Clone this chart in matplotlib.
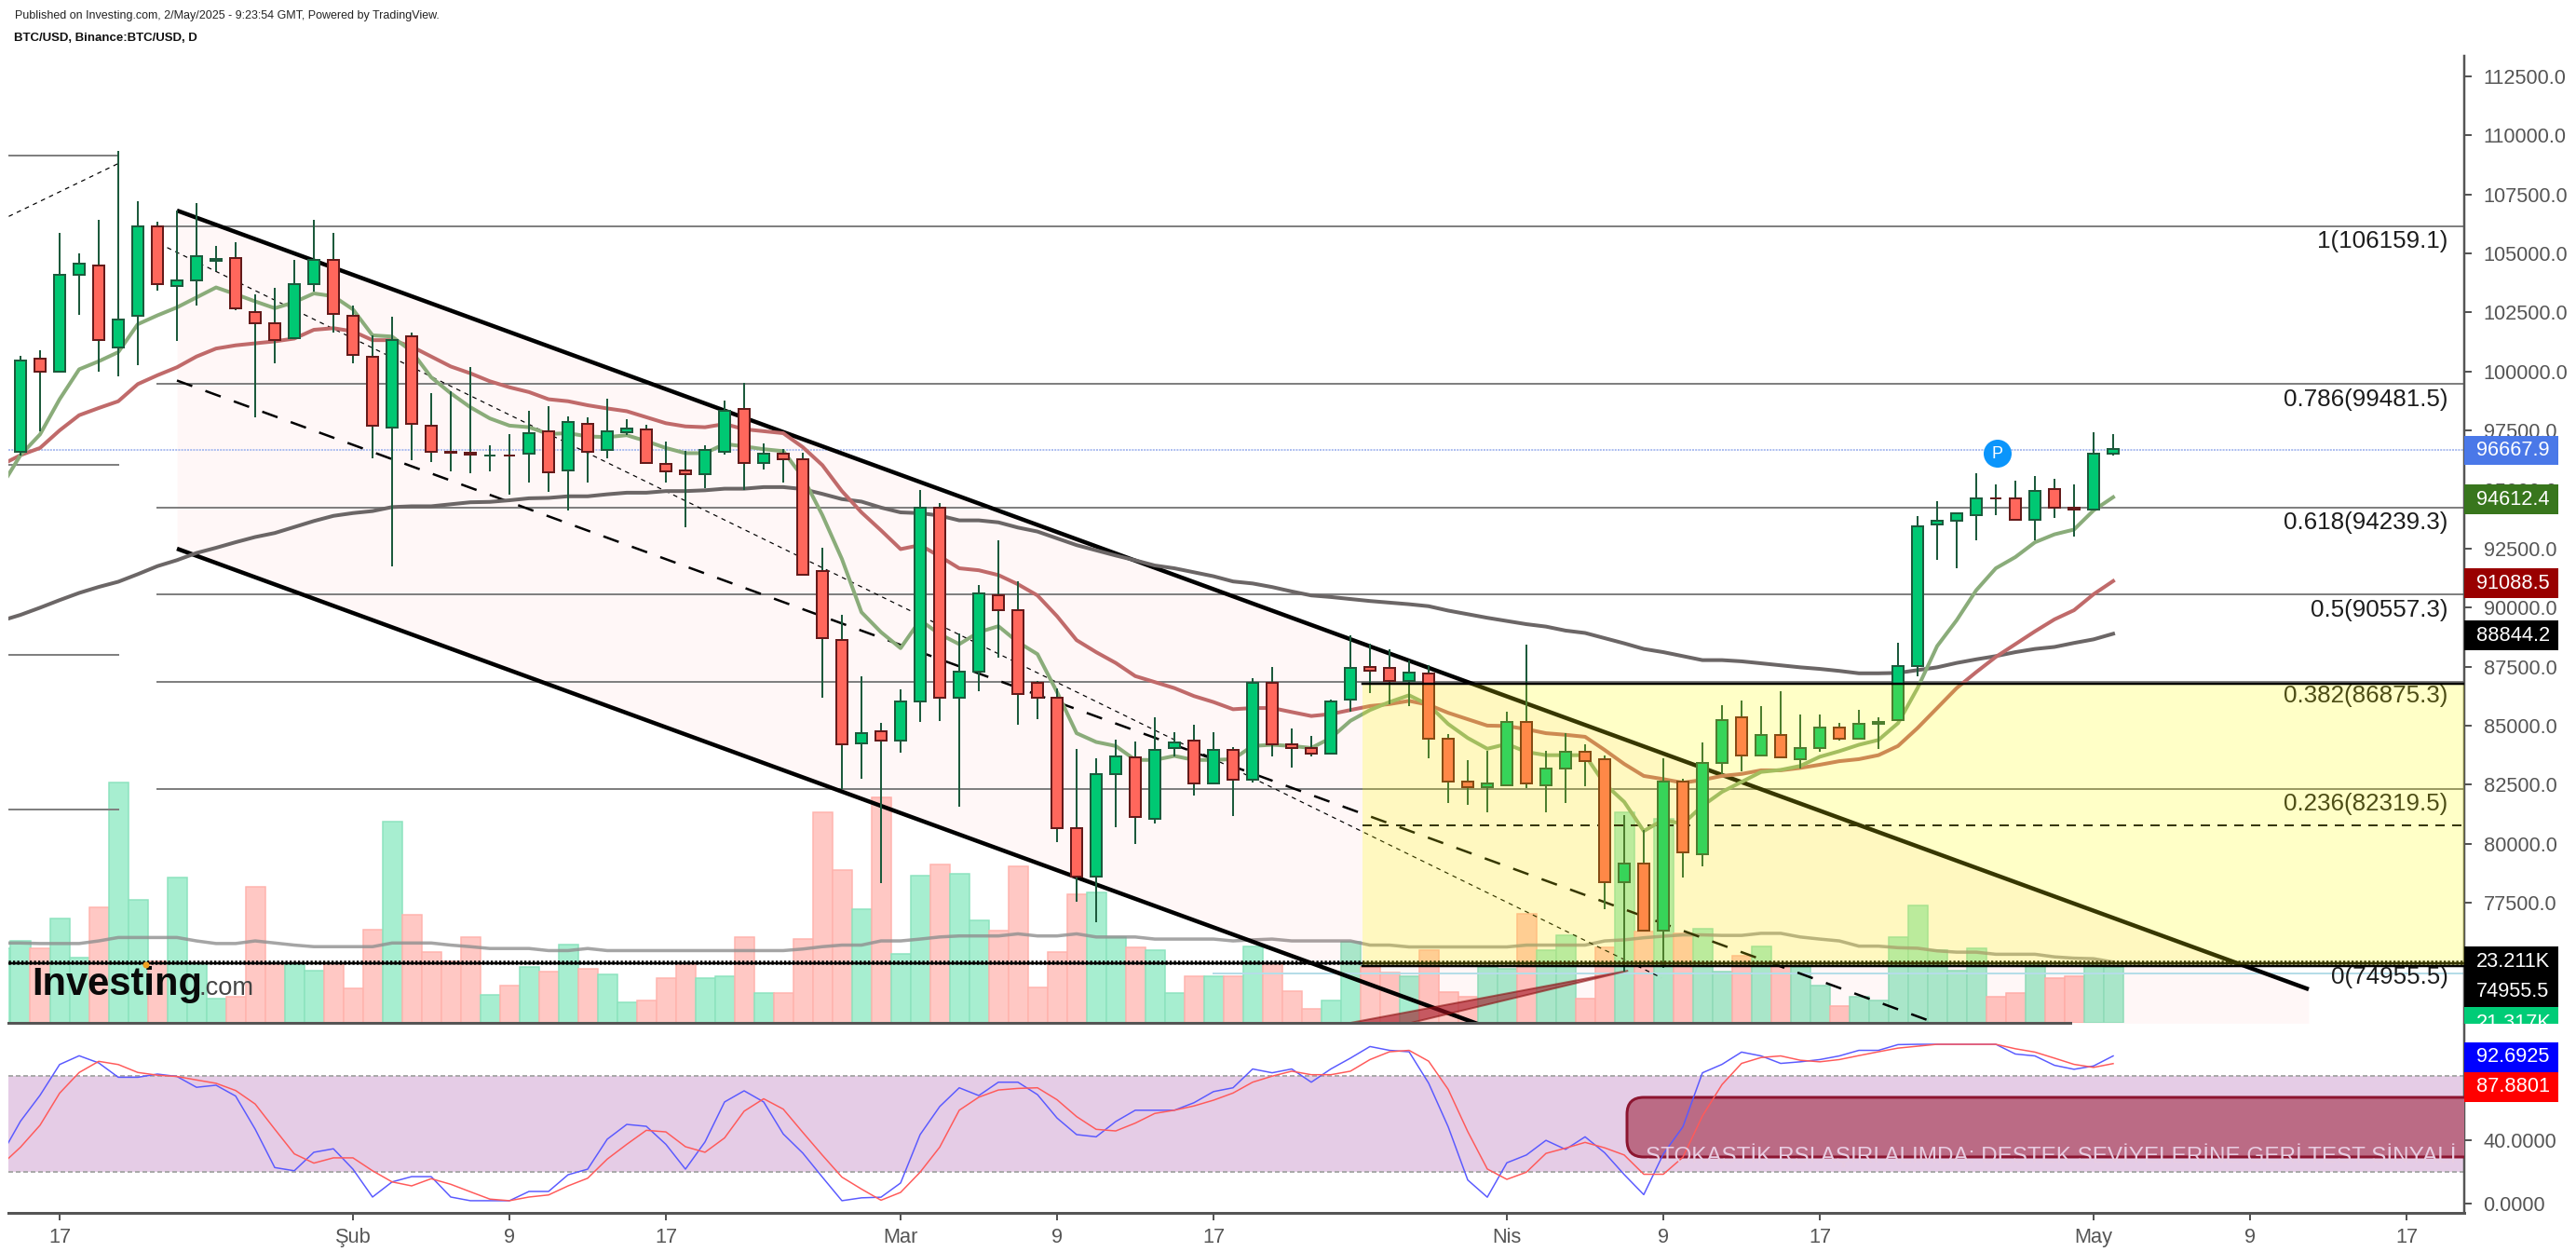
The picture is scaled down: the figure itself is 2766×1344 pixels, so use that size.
import matplotlib
matplotlib.use("Agg")
import matplotlib.pyplot as plt
from matplotlib.patches import Rectangle, Circle, FancyBboxPatch

plt.rcParams['font.family'] = ['Liberation Sans', 'DejaVu Sans']

W, H = 2766, 1344
PX = 0.72  # one pixel in points at dpi 100

# daily candles, first one is 15 Jan 2025 (day -2, day 0 is 17 Jan)
opens = [96595, 100552, 100011, 104103, 104492, 101025, 102344, 106149, 103629, 103849, 104700, 104813,
         102530, 102057, 101414, 103697, 104729, 102361, 100636, 97626, 101499, 97711, 96612, 96544,
         96426, 96460, 96510, 97474, 95800, 97779, 96679, 97440, 97559, 96070, 95817, 95648,
         96595, 98421, 96121, 96527, 96290, 91556, 88630, 84262, 84770, 84364, 86021, 94239,
         86173, 87289, 90536, 89893, 86833, 86190, 80678, 78597, 82944, 83671, 81066, 84043,
         84381, 82554, 83975, 82707, 86816, 84212, 84060, 83806, 86106, 87475, 87458, 86883,
         87222, 84448, 82639, 82385, 82487, 85158, 82487, 83180, 83907, 83586, 78361, 79156,
         76331, 82639, 79545, 83434, 85345, 83755, 84618, 83569, 84060, 84922, 84465, 85074,
         85243, 87526, 93529, 93681, 93918, 94645, 94628, 93732, 95034, 94223, 94155, 96522]
highs = [100653, 100890, 105878, 105000, 106436, 109345, 107214, 106335, 106825, 107130, 105320, 105473,
         103257, 103562, 104745, 106420, 105862, 102784, 101533, 102311, 101668, 99080, 99165, 100180,
         96882, 97339, 98354, 98523, 98117, 98049, 98861, 97981, 97728, 97035, 96629, 96882,
         98776, 99503, 96967, 96713, 96561, 92536, 89696, 87103, 85108, 86528, 94983, 94425,
         88913, 90959, 92853, 91111, 86900, 86596, 84026, 83620, 84398, 84330, 85361, 84719,
         85040, 84719, 84094, 87019, 87492, 84871, 84567, 86122, 88828, 88490, 88253, 87780,
         87560, 84635, 83535, 83941, 85581, 88422, 83924, 84702, 84229, 83755, 81236, 80593,
         83620, 82741, 84313, 85886, 86055, 85835, 86461, 85497, 85497, 85108, 85666, 85378,
         88507, 93867, 94510, 94003, 95694, 95220, 95372, 95592, 95440, 95220, 97435, 97351]
lows = [96460, 97474, 99977, 102412, 99977, 99808, 100281, 103427, 101313, 102801, 104238, 102581,
        98066, 100366, 101414, 103393, 101634, 100366, 96341, 91758, 96256, 96173, 95783, 95698,
        95783, 94769, 95310, 94904, 94126, 95310, 96341, 97305, 96121, 95310, 93416, 95073,
        96494, 94971, 95868, 95310, 91387, 86179, 82322, 82758, 78344, 83857, 85142, 85209,
        81591, 86478, 87881, 85040, 85294, 80069, 77549, 76669, 80711, 80001, 80881, 83687,
        82064, 82554, 81185, 82589, 83721, 83248, 83721, 83806, 85581, 86393, 85919, 85835,
        83637, 81726, 81658, 81354, 82487, 82368, 81354, 81726, 82453, 77245, 74590, 76331,
        74759, 78564, 79037, 82960, 83079, 83755, 83637, 83180, 83891, 84364, 84465, 84026,
        85243, 87103, 92007, 91669, 92853, 93901, 93664, 92853, 93817, 93022, 94155, 96438]
closes = [100484, 100011, 104103, 104576, 101330, 102209, 106149, 103697, 103866, 104898, 104770, 102665,
          102040, 101330, 103714, 104729, 102429, 100704, 97694, 101346, 97779, 96595, 96578, 96494,
          96460, 96426, 97390, 95733, 97863, 96595, 97474, 97576, 96121, 95783, 95648, 96679,
          98336, 96121, 96527, 96273, 91387, 88715, 84199, 84702, 84364, 86038, 94239, 86173,
          87306, 90621, 89893, 86342, 86173, 80678, 78597, 82960, 83687, 81134, 83975, 84313,
          82554, 83975, 82707, 86816, 84212, 84043, 83806, 86038, 87458, 87340, 86883, 87238,
          84448, 82622, 82385, 82554, 85158, 82554, 83197, 83907, 83501, 78361, 79156, 76331,
          82639, 79629, 83434, 85243, 83755, 84618, 83671, 84060, 84922, 84465, 85091, 85176,
          87526, 93445, 93698, 94003, 94628, 94611, 93732, 94950, 94223, 94138, 96522, 96708]

# moving averages, first value is day -3 (just off the left edge)
ema_fast = [95107, 96460, 97339, 98827, 100095, 100434, 100822, 102006, 102378, 102716, 103139, 103562, 103275,
            102970, 102683, 102936, 103308, 103190, 102632, 101533, 101482, 100856, 99757, 99080, 98489,
            98015, 97711, 97643, 97356, 97390, 97254, 97221, 97305, 97051, 96764, 96544, 96544,
            96933, 96831, 96713, 96629, 95530, 93923, 92063, 89809, 88963, 88287, 89471, 88879,
            88456, 88963, 89217, 88541, 88033, 86427, 84685, 84313, 84144, 83553, 83553, 83722,
            83553, 83553, 83586, 84144, 84195, 84144, 84060, 84482, 85209, 85666, 86004, 86292,
            85886, 85074, 84482, 84026, 84229, 83891, 83755, 83755, 83755, 82538, 81777, 80542,
            81016, 80847, 81608, 82200, 82622, 83045, 83130, 83299, 83688, 83924, 84195, 84398,
            85108, 86596, 88372, 89471, 90739, 91669, 92143, 92768, 93106, 93309, 94121, 94679]
ema_mid = [96037, 96460, 96764, 97508, 98151, 98455, 98742, 99470, 99842, 100180, 100636, 100974, 101110,
           101195, 101279, 101397, 101769, 101837, 101702, 101330, 101330, 101059, 100636, 100214, 99926,
           99588, 99334, 99131, 98827, 98742, 98573, 98438, 98320, 98066, 97812, 97677, 97643,
           97779, 97559, 97474, 97390, 96798, 96037, 94938, 94037, 93275, 92481, 92650, 92176,
           91669, 91585, 91382, 90993, 90519, 89640, 88625, 88118, 87661, 87103, 86850, 86596,
           86258, 86004, 85700, 85751, 85751, 85581, 85413, 85497, 85666, 85835, 85919, 86055,
           85886, 85548, 85277, 85007, 84990, 84855, 84685, 84618, 84533, 83975, 83383, 82876,
           82741, 82588, 82707, 82876, 82960, 83113, 83113, 83214, 83349, 83501, 83586, 83755,
           84144, 84905, 85750, 86596, 87273, 87915, 88456, 88997, 89505, 89893, 90570, 91128]
ema_slow = [89443, 89696, 90000, 90321, 90625, 90879, 91099, 91420, 91759, 92013, 92317, 92537, 92773,
            92993, 93162, 93416, 93670, 93889, 94007, 94092, 94261, 94295, 94295, 94380, 94464,
            94481, 94549, 94633, 94650, 94718, 94718, 94802, 94870, 94870, 94938, 94938, 94972,
            95039, 95039, 95107, 95107, 95022, 94819, 94599, 94493, 94239, 94037, 94003, 93901,
            93698, 93698, 93614, 93394, 93225, 92937, 92650, 92430, 92210, 92007, 91787, 91669,
            91500, 91331, 91111, 91026, 90874, 90688, 90519, 90452, 90367, 90283, 90215, 90147,
            90063, 89877, 89725, 89572, 89437, 89302, 89200, 89031, 88930, 88710, 88490, 88253,
            88118, 87949, 87780, 87780, 87729, 87645, 87560, 87475, 87408, 87323, 87222, 87222,
            87238, 87357, 87475, 87661, 87813, 87949, 88118, 88253, 88338, 88507, 88659, 88896]

# volume in thousands, first value is day -3
volume = [28.5, 31.3, 28.5, 39.7, 24.9, 44.1, 91.8, 47.0, 23.6, 55.5, 22.9, 9.3, 9.9,
          52.0, 22.9, 22.4, 20.1, 22.9, 13.0, 35.5, 76.9, 41.3, 27.0, 23.6, 32.8,
          10.7, 14.2, 21.4, 19.4, 29.9, 20.6, 18.5, 7.8, 8.5, 17.1, 22.9, 17.1,
          17.8, 32.8, 11.4, 11.4, 32.0, 80.4, 58.4, 43.5, 86.2, 26.4, 56.4, 60.5,
          57.0, 39.2, 35.1, 59.8, 13.5, 27.1, 49.1, 50.0, 32.8, 28.7, 27.8, 11.3,
          17.7, 17.7, 17.7, 29.3, 22.9, 12.1, 5.5, 8.4, 30.8, 21.3, 19.1, 17.7,
          27.8, 11.9, 9.9, 21.3, 20.7, 41.5, 27.8, 33.6, 9.1, 28.7, 80.5, 35.0,
          77.8, 34.3, 35.8, 19.5, 25.6, 29.3, 21.6, 21.5, 14.1, 6.3, 9.9, 8.5,
          32.8, 45.0, 27.8, 20.1, 28.5, 9.9, 11.3, 22.9, 17.1, 17.7, 21.9, 21.3]
volume_ma = [30.5, 30.5, 30.3, 30.3, 30.3, 31.3, 32.6, 32.6, 32.6, 32.6, 31.3, 30.3, 30.3,
             31.3, 30.5, 29.7, 29.1, 29.1, 29.1, 29.1, 30.5, 30.5, 30.5, 29.7, 29.1,
             28.4, 28.4, 28.4, 27.6, 27.6, 28.4, 27.6, 27.6, 27.6, 27.6, 27.6, 27.6,
             27.6, 27.6, 27.6, 27.6, 28.2, 29.1, 29.7, 29.7, 31.3, 31.3, 32.0, 32.8,
             33.2, 33.2, 33.2, 34.0, 33.2, 33.2, 34.0, 32.8, 32.8, 32.8, 32.0, 32.0,
             32.0, 32.0, 31.3, 31.7, 32.0, 31.3, 31.3, 31.3, 31.3, 29.7, 29.7, 29.0,
             29.0, 29.0, 29.0, 29.0, 29.0, 29.7, 29.7, 29.7, 29.7, 31.3, 31.7, 32.5,
             33.1, 33.6, 33.6, 33.4, 33.4, 34.2, 34.2, 32.8, 32.0, 31.3, 29.3, 29.3,
             28.7, 28.5, 27.5, 27.0, 27.0, 26.2, 26.2, 26.2, 25.2, 24.7, 24.5, 23.2]

# stochastic rsi, first value is day -3
stoch_k = [30.0, 51.7, 68.0, 87.3, 92.8, 88.3, 79.3, 79.3, 81.3, 79.8, 73.0, 74.3, 67.5,
           46.7, 22.6, 20.6, 32.2, 34.4, 21.6, 4.1, 13.6, 16.9, 16.9, 4.1, 1.8,
           1.8, 1.8, 7.6, 7.6, 18.1, 21.6, 40.4, 49.7, 48.5, 37.2, 21.6, 38.7,
           63.8, 70.8, 63.8, 43.7, 31.7, 16.6, 1.8, 3.6, 4.0, 12.9, 43.3, 60.9,
           72.7, 67.8, 76.2, 76.2, 68.4, 53.7, 43.3, 41.9, 51.5, 58.6, 58.6, 58.6,
           63.3, 70.3, 72.7, 84.5, 82.1, 84.5, 76.2, 84.5, 91.3, 98.6, 96.2, 95.3,
           75.6, 48.2, 14.8, 4.0, 25.6, 30.5, 39.7, 34.0, 41.9, 31.9, 18.2, 5.6,
           31.1, 48.2, 82.1, 87.4, 95.1, 92.7, 88.0, 89.0, 90.4, 92.7, 96.2, 96.2,
           99.8, 100.0, 100.0, 100.0, 100.0, 100.0, 93.9, 92.7, 86.8, 84.3, 86.4, 92.6925]
stoch_d = [24.0, 35.4, 49.2, 69.3, 82.3, 89.3, 87.3, 82.3, 80.6, 79.8, 77.6, 75.5, 71.0,
           62.5, 46.7, 31.2, 25.4, 28.7, 28.7, 20.6, 13.6, 11.1, 15.6, 12.1, 7.4,
           2.8, 1.8, 4.1, 5.4, 11.1, 15.9, 27.9, 37.2, 46.0, 45.0, 35.7, 32.2,
           41.2, 58.0, 65.8, 59.3, 44.7, 30.4, 16.6, 9.1, 2.1, 7.0, 19.7, 35.4,
           58.6, 66.8, 71.3, 72.3, 72.7, 65.2, 54.6, 46.6, 45.6, 50.5, 56.6, 58.6,
           61.3, 64.9, 69.4, 76.2, 80.0, 83.1, 80.9, 80.9, 83.1, 90.4, 95.3, 96.2,
           89.4, 71.7, 45.2, 21.7, 15.2, 19.7, 31.5, 34.8, 38.4, 35.0, 30.5, 18.4,
           18.4, 29.1, 55.0, 74.7, 88.0, 91.7, 92.7, 90.0, 89.0, 90.4, 92.9, 95.3,
           97.6, 98.8, 100.0, 100.0, 100.0, 100.0, 97.2, 95.1, 91.3, 87.4, 85.5, 87.8801]

# drawings on the chart
fib_levels = [106159.1, 99481.5, 94239.3, 90557.3, 86875.3, 82319.5]
fib_names = ['1(106159.1)', '0.786(99481.5)', '0.618(94239.3)', '0.5(90557.3)', '0.382(86875.3)', '0.236(82319.5)', '0(74955.5)']
old_fib_levels = [109130, 96050, 88000, 81450]
channel_days = [6, 115]
channel_upper = [106819, 73840]
channel_mid = [99620, 66639]
channel_lower = [92500, 59519]
thin_days = [5.5, 81.9]
thin_prices = [105250, 74330]
old_diag_days = [-2.6, 3]
old_diag_prices = [106570, 108810]
wedge_days = [66, 80.2, 69.1]
wedge_prices = [72420, 74630, 72420]
box_prices = [74815, 86770]
last_price = 96667.9
price_ticks = list(range(75000, 115000, 2500))
day_ticks = [0, 15, 23, 31, 43, 51, 59, 74, 82, 90, 104, 112, 120]
day_labels = ['17', 'Şub', '9', '17', 'Mar', '9', '17', 'Nis', '9', '17', 'May', '9', '17']

assert len(opens) == len(highs) == len(lows) == len(closes) == 108
assert len(ema_fast) == len(ema_mid) == len(ema_slow) == len(volume) == len(volume_ma) == len(stoch_k) == len(stoch_d) == 109

# px <-> data for the panes
x0, x1 = 9, 2646
main_top, main_bot = 60, 1098
low_top, low_bot = 1100, 1302
day_l = (x0 - 64) / 21
day_r = (x1 - 64) / 21

candle_days = list(range(-2, 106))
line_days = list(range(-3, 106))

fig = plt.figure(figsize=(W / 100, H / 100), dpi=100, facecolor='white')


def rect(top, bot):
    return [x0 / W, 1 - bot / H, (x1 - x0) / W, (bot - top) / H]


ax_vol = fig.add_axes(rect(main_top, main_bot), zorder=1)
ax = fig.add_axes(rect(main_top, main_bot), zorder=2)
ax2 = fig.add_axes(rect(low_top, low_bot), zorder=2)
ov = fig.add_axes([0, 0, 1, 1], zorder=5)
ov.set_xlim(0, W)
ov.set_ylim(H, 0)
ov.axis('off')
ov.patch.set_alpha(0)

# volume pane
ax_vol.set_xlim(day_l, day_r)
ax_vol.set_ylim(0, (main_bot - main_top) / 2.81)
ax_vol.axis('off')
vol_up = [True] + [c >= o for o, c in zip(opens, closes)]
for d, v, up in zip(line_days, volume, vol_up):
    ax_vol.bar(d, v, width=1.0, facecolor='#a7eed0' if up else '#ffc8c4',
               edgecolor='#8ce3be' if up else '#ffb3ad', linewidth=1.5 * PX)
ax_vol.plot(line_days, volume_ma, color='#8f8f8f', lw=3.5 * PX, alpha=0.8)

# price pane
ax.set_xlim(day_l, day_r)
ax.set_ylim(72420, 113367)
ax.patch.set_alpha(0)
ax.fill_between(channel_days, channel_lower, channel_upper, color='#ff0000', alpha=0.032, lw=0, zorder=1)

for lev in fib_levels:
    ax.plot([(169 - 64) / 21, day_r], [lev, lev], color='#808080', lw=2 * PX, zorder=2)
for lev in old_fib_levels:
    ax.plot([day_l, 3], [lev, lev], color='#808080', lw=2 * PX, zorder=2)
ax.plot([59, day_r], [74510, 74510], color='#b5dde8', lw=2 * PX, zorder=2)
ax.plot([day_l, day_r], [last_price, last_price], color='#aebff0', lw=2 * PX, ls=(0, (1, 0.6)), zorder=2)

ax.plot(old_diag_days, old_diag_prices, color='black', lw=1.2 * PX, ls=(0, (4, 4)), zorder=2)
ax.plot(thin_days, thin_prices, color='black', lw=1.2 * PX, ls=(0, (4, 4)), zorder=2)
ax.plot(channel_days, channel_mid, color='black', lw=2.5 * PX, ls=(0, (7, 6)), zorder=2)
ax.plot(channel_days, channel_upper, color='black', lw=4.5 * PX, zorder=2.5, solid_capstyle='butt')
ax.plot(channel_days, channel_lower, color='black', lw=4.5 * PX, zorder=2.5, solid_capstyle='butt')
ax.plot([23 + 43.6, day_r], [80780, 80780], color='black', lw=2 * PX, ls=(0, (5, 4)), zorder=2)
ax.fill(wedge_days, wedge_prices, facecolor='#a01020', alpha=0.6, edgecolor='#8b1010', lw=2 * PX, zorder=2.5)

ax.plot(line_days, ema_slow, color='#6b6666', lw=4 * PX, zorder=3, solid_joinstyle='round')
ax.plot(line_days, ema_mid, color='#c06a6a', lw=4 * PX, zorder=3, solid_joinstyle='round')
ax.plot(line_days, ema_fast, color='#8aac7a', lw=4 * PX, zorder=3, solid_joinstyle='round')

for d, o, h, l, c in zip(candle_days, opens, highs, lows, closes):
    up = c >= o
    ax.vlines(d, l, h, color='#1c5a3c', lw=2 * PX, zorder=4)
    ax.bar(d, abs(c - o), bottom=min(o, c), width=0.6, facecolor='#00c873' if up else '#ff675c',
           edgecolor='#1c5a3c' if up else '#641a1a', linewidth=2 * PX, zorder=4.5)

# thick zero line of the fib with its dotted look
ax.plot([day_l, day_r], [74955.5, 74955.5], color='black', lw=2.5 * PX, zorder=5)
ax.plot([day_l, day_r], [75000, 75000], color='black', lw=4.5 * PX, ls=(0, (0.5, 0.5)), zorder=5)

for name, lev, off in zip(fib_names[:-1], fib_levels, [-650, -680, -650, -650, -600, -630]):
    ax.text(day_r - 17.5 / 21, lev + off, name, ha='right', va='center', fontsize=18.7, color='#1c1c1c', zorder=6)
ax.text(day_r - 17.5 / 21, 74955.5 - 620, fib_names[-1], ha='right', va='center', fontsize=18.7, color='#1c1c1c', zorder=6)

# yellow box lies over nearly everything
ax.add_patch(Rectangle((43.6 + 23, box_prices[0]), day_r, box_prices[1] - box_prices[0], facecolor='#ffff00',
                       alpha=0.22, lw=0, zorder=7))
ax.plot([66.6, day_r], [box_prices[1]] * 2, color='black', lw=2.5 * PX, zorder=7.5)
ax.plot([66.6, day_r], [box_prices[0]] * 2, color='black', lw=2.5 * PX, zorder=7.5)

ax.set_xticks([])
ax.yaxis.tick_right()
ax.set_yticks(price_ticks)
ax.set_yticklabels([f'{p:.1f}' for p in price_ticks])
ax.tick_params(axis='y', length=8 * PX * 1.0, width=2 * PX, color='#555555', labelcolor='#555555', labelsize=15.7, pad=9)
for s in ['top', 'left']:
    ax.spines[s].set_visible(False)
ax.spines['right'].set_color('#555555')
ax.spines['right'].set_linewidth(2.5 * PX)
ax.spines['bottom'].set_color('#555555')
ax.spines['bottom'].set_linewidth(3 * PX)
ax.spines['bottom'].set_bounds(day_l, (2223 - 64) / 21)

# stochastic pane
ax2.set_xlim(day_l, day_r)
ax2.set_ylim(-5.85, 112.3)
ax2.axhspan(20, 80, color='#e5cce6', lw=0, zorder=1)
ax2.axhline(80, color='#aaaaaa', lw=2 * PX, ls=(0, (2.5, 1.5)), zorder=2)
ax2.axhline(20, color='#aaaaaa', lw=2 * PX, ls=(0, (2.5, 1.5)), zorder=2)
note_box = FancyBboxPatch((1765, 1196), 1000, 28, boxstyle='round,pad=18,rounding_size=18', transform=ov.transData,
                          facecolor='#bb6b85', edgecolor='#8c1530', lw=3 * PX, zorder=3)
ax2.add_patch(note_box)
ax2.plot(line_days, stoch_k, color='#5a5aff', lw=1.5 * PX, zorder=4)
ax2.plot(line_days, stoch_d, color='#ff5a5a', lw=1.5 * PX, zorder=4)
ax2.text((1767 - 64) / 21, 60 - 30.0, 'STOKASTİK RSI AŞIRI ALIMDA: DESTEK SEVİYELERİNE GERİ TEST SİNYALİ',
         ha='left', va='center', fontsize=17.5, color='#e8cde2', zorder=5, clip_on=True)
ax2.set_xticks(day_ticks)
ax2.set_xticklabels(day_labels)
ax2.yaxis.tick_right()
ax2.set_yticks([0, 40, 80])
ax2.set_yticklabels(['0.0000', '40.0000', '80.0000'])
ax2.tick_params(axis='both', length=8 * PX, width=2 * PX, color='#555555', labelcolor='#555555', labelsize=15.7)
ax2.tick_params(axis='y', pad=9)
ax2.tick_params(axis='x', pad=6)
for s in ['top', 'left']:
    ax2.spines[s].set_visible(False)
for s in ['right', 'bottom']:
    ax2.spines[s].set_color('#555555')
ax2.spines['right'].set_linewidth(2.5 * PX)
ax2.spines['bottom'].set_linewidth(3 * PX)

# tags on the right scale
tag_texts = ['96667.9', '94612.4', '91088.5', '88844.2', '23.211K', '74955.5', '21.317K', '92.6925', '87.8801']
tag_colors = ['#4a78e8', '#38761d', '#990000', '#000000', '#000000', '#000000', '#00cc77', '#0000ff', '#ff0000']
tag_tops = [468, 520, 610, 666, 1016, 1049, 1081, 1119, 1151]
tag_bots = [499, 552, 642, 698, 1049, 1081, 1099, 1151, 1183]
for txt, col, t, b in zip(tag_texts, tag_colors, tag_tops, tag_bots):
    ov.add_patch(Rectangle((2646, t), 101, b - t, facecolor=col, lw=0, zorder=2))
    label = ov.text(2659, (t + b) / 2 + (8 if txt == '21.317K' else 0), txt, color='white', fontsize=15.7, va='center', zorder=3)
    label.set_clip_path(Rectangle((2646, t), 101, b - t, transform=ov.transData))

# pivot marker
ov.add_patch(Circle((2145, 487), 15, facecolor='#0b95fb', lw=0, zorder=2))
ov.text(2145, 487, 'P', color='white', fontsize=13, ha='center', va='center', zorder=3)

# header and logo
ov.text(16, 17, 'Published on Investing.com, 2/May/2025 - 9:23:54 GMT, Powered by TradingView.', fontsize=9,
        color='#222222', va='center')
ov.text(15, 41, 'BTC/USD, Binance:BTC/USD, D', fontsize=9.5, color='#111111', va='center', fontweight='bold')
ov.text(34, 1068, 'Investing', fontsize=30, fontweight='bold', color='#0a0a0a', va='baseline')
ov.text(214, 1068, '.com', fontsize=19.6, color='#444444', va='baseline')
ov.add_patch(Circle((157, 1036), 3.5, facecolor='#f0a020', lw=0, zorder=3))

fig.savefig('out.png', dpi=100)
